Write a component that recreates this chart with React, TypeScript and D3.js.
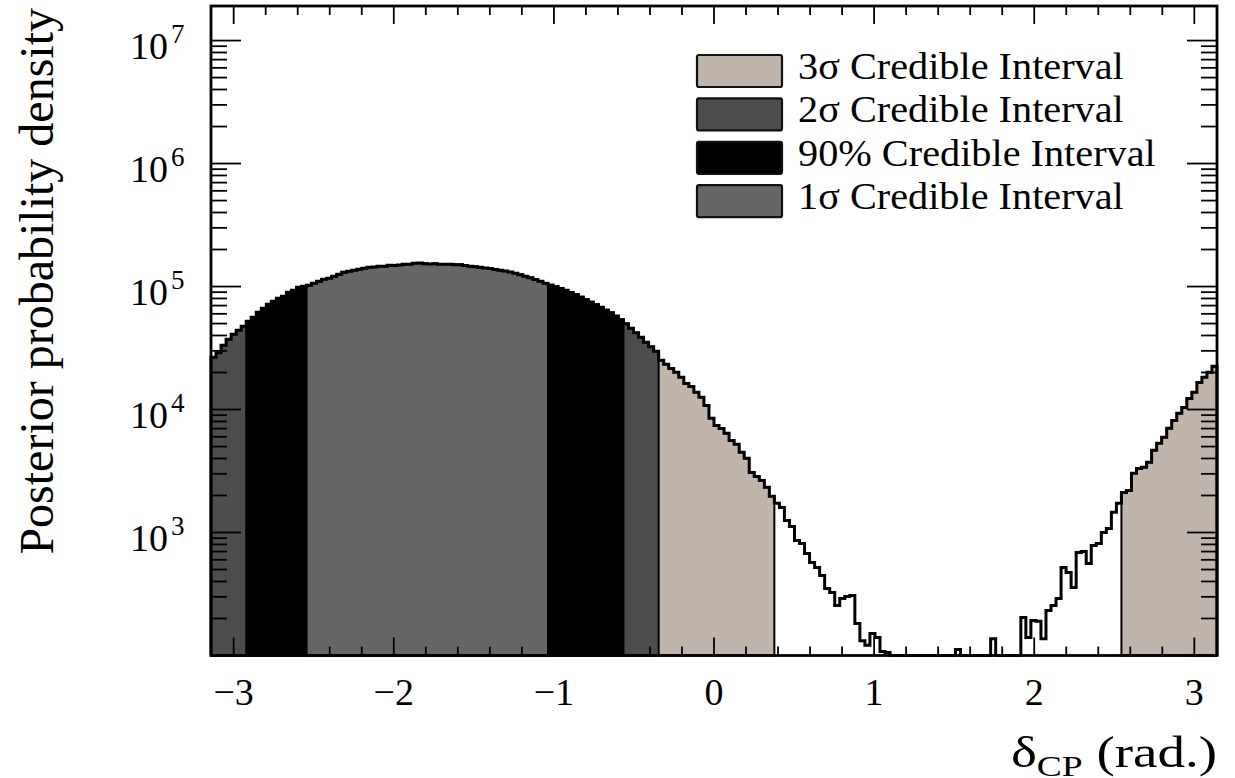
import React from 'react';
import * as d3 from 'd3';

// ---------------- data ----------------
const X_DOMAIN: [number, number] = [-Math.PI, Math.PI];
const Y_DOMAIN: [number, number] = [100, 1.91e7];

// posterior probability density, 200 bins over [-pi, pi]
const POSTERIOR: number[] = [
  26600, 29000, 33300, 37300, 40900, 44100, 47600, 52200, 56300, 61800,
  66600, 71800, 75900, 80300, 83400, 89900, 93300, 98700, 100500, 102500,
  106300, 110500, 114600, 116900, 121300, 125900, 130700, 133100, 135800, 138300,
  140900, 143600, 144500, 146300, 146000, 149000, 148500, 149500, 151800, 152000,
  154900, 155500, 153000, 152500, 153000, 152000, 151800, 151500, 150700, 150400,
  148000, 146300, 144900, 143600, 141700, 139900, 137700, 135800, 133700, 131500,
  128300, 124700, 121300, 118000, 114000, 110500, 106300, 103000, 100000, 96500,
  93300, 89500, 86100, 82200, 78400, 74900, 71500, 67900, 64500, 61200,
  57500, 54000, 49800, 45800, 42100, 38700, 35200, 32400, 29800, 25100,
  23300, 21600, 20100, 18300, 16300, 15400, 13800, 12600, 10800, 8480,
  7430, 7000, 6400, 5610, 5210, 4490, 4010, 3080, 2860, 2650,
  2330, 1970, 1730, 1600, 1250, 1120, 862, 815, 676, 571,
  520, 448, 351, 326, 255, 291, 302, 308, 182, 132,
  121, 151, 140, 108, 106, 0, 0, 0, 0, 0,
  0, 0, 0, 0, 0, 0, 0, 0, 112, 0,
  0, 0, 0, 0, 0, 137, 0, 0, 0, 0,
  0, 204, 140, 193, 190, 137, 232, 255, 291, 520,
  473, 357, 689, 700, 561, 785, 815, 1000, 1080, 1460,
  1730, 2120, 2200, 3030, 3320, 3400, 3720, 4660, 5310, 5940,
  7030, 8160, 9310, 10400, 12300, 13800, 16600, 18300, 20100, 22500,
];

const X_TICKS = [-3, -2, -1, 0, 1, 2, 3];
const X_TICK_LABELS = ['\u22123', '\u22122', '\u22121', '0', '1', '2', '3'];
const Y_EXPONENTS = [3, 4, 5, 6, 7];

const INTERVAL_LABELS = [
  '3\u03c3 Credible Interval',
  '2\u03c3 Credible Interval',
  '90% Credible Interval',
  '1\u03c3 Credible Interval',
];
// ranges in delta_CP (rad.)
const INTERVAL_RANGES: [number, number][][] = [
  [[-Math.PI, 0.377], [2.5447, Math.PI]],
  [[-Math.PI, -0.3456]],
  [[-2.9217, -0.5655]],
  [[-2.5447, -1.0367]],
];

// ---------------- styles ----------------
const COLORS = ['#bfb5ab', '#4d4d4d', '#000000', '#666666'];
const FONT = "'Liberation Serif', 'Times New Roman', serif";
const W = 1235;
const H = 778;
const PLOT = { left: 211, right: 1217, top: 6, bottom: 655.5 };

export default function App() {
  const x = d3.scaleLinear().domain(X_DOMAIN).range([PLOT.left, PLOT.right]);
  const y = d3.scaleLog().domain(Y_DOMAIN).range([PLOT.bottom, PLOT.top]);
  const n = POSTERIOR.length;
  const bw = (X_DOMAIN[1] - X_DOMAIN[0]) / n;
  const edge = (i: number) => X_DOMAIN[0] + i * bw;
  const yv = (v: number) => (v <= Y_DOMAIN[0] ? y(Y_DOMAIN[0]) : y(v));

  // step path for bins [i0, i1)
  const stepPath = (i0: number, i1: number, closed: boolean) => {
    const pts: [number, number][] = [];
    pts.push([x(edge(i0)), y(Y_DOMAIN[0])]);
    for (let i = i0; i < i1; i++) {
      pts.push([x(edge(i)), yv(POSTERIOR[i])]);
      pts.push([x(edge(i + 1)), yv(POSTERIOR[i])]);
    }
    pts.push([x(edge(i1)), y(Y_DOMAIN[0])]);
    const line = d3.line();
    return line(pts) + (closed ? 'Z' : '');
  };

  const regionRuns = (ranges: [number, number][]) => {
    const runs: [number, number][] = [];
    ranges.forEach(([a, b]) => {
      let s = -1;
      for (let i = 0; i < n; i++) {
        const c = edge(i) + bw / 2;
        const inside = c >= a && c <= b;
        if (inside && s < 0) s = i;
        if (!inside && s >= 0) {
          runs.push([s, i]);
          s = -1;
        }
      }
      if (s >= 0) runs.push([s, n]);
    });
    return runs;
  };

  // ticks
  const xMinor = d3.range(-15, 16).map((k) => k * 0.2).filter((v) => v >= X_DOMAIN[0] && v <= X_DOMAIN[1]);
  const yMinor: number[] = [];
  for (let e = 2; e <= 7; e++) {
    for (let m = 1; m <= 9; m++) {
      const v = m * Math.pow(10, e);
      if (v >= Y_DOMAIN[0] && v <= Y_DOMAIN[1]) yMinor.push(v);
    }
  }

  const legendX = 697;
  const legendY0 = 71;
  const legendDy = 43.4;

  return (
    <svg
      width={W}
      height={H}
      style={{ position: 'absolute', left: 0, top: 0, background: '#fff' }}
      fontFamily={FONT}
    >
      <rect x={0} y={0} width={W} height={H} fill="#fff" />
      {/* interval fills */}
      {INTERVAL_RANGES.map((ranges, k) =>
        regionRuns(ranges).map(([a, b], j) => (
          <path
            key={`r${k}-${j}`}
            d={stepPath(a, b, true)}
            fill={COLORS[k]}
            stroke="#000"
            strokeWidth={2}
          />
        ))
      )}
      {/* full histogram outline */}
      <path d={stepPath(0, n, false)} fill="none" stroke="#000" strokeWidth={3} strokeLinejoin="miter" />

      {/* ticks */}
      <g stroke="#000" strokeWidth={1.8}>
        {xMinor.map((v, i) => {
          const major = Math.abs(v - Math.round(v)) < 1e-9;
          const len = major ? 18 : 9;
          return (
            <g key={`xt${i}`}>
              <line x1={x(v)} x2={x(v)} y1={PLOT.bottom} y2={PLOT.bottom - len} />
              <line x1={x(v)} x2={x(v)} y1={PLOT.top} y2={PLOT.top + len} />
            </g>
          );
        })}
        {yMinor.map((v, i) => {
          const major = Math.abs(Math.log10(v) - Math.round(Math.log10(v))) < 1e-9;
          const len = major ? 30 : 16;
          return (
            <g key={`yt${i}`}>
              <line x1={PLOT.left} x2={PLOT.left + len} y1={y(v)} y2={y(v)} />
              <line x1={PLOT.right} x2={PLOT.right - len} y1={y(v)} y2={y(v)} />
            </g>
          );
        })}
      </g>
      {/* frame */}
      <rect
        x={PLOT.left}
        y={PLOT.top}
        width={PLOT.right - PLOT.left}
        height={PLOT.bottom - PLOT.top}
        fill="none"
        stroke="#000"
        strokeWidth={2.8}
      />

      {/* x tick labels */}
      {X_TICKS.map((t, i) => (
        <text key={`xl${i}`} x={x(t)} y={705} fontSize={38} textAnchor="middle" fill="#000">
          {X_TICK_LABELS[i]}
        </text>
      ))}
      {/* y tick labels */}
      {Y_EXPONENTS.map((e) => {
        const yy = y(Math.pow(10, e));
        return (
          <g key={`yl${e}`}>
            <text x={168} y={yy + 18} fontSize={38} textAnchor="end" fill="#000">
              10
            </text>
            <text x={171} y={yy + 2} fontSize={27} textAnchor="start" fill="#000">
              {e}
            </text>
          </g>
        );
      })}

      {/* axis titles */}
      <text
        transform={`translate(53, 8) rotate(-90)`}
        fontSize={48}
        textAnchor="end"
        fill="#000"
      >
        Posterior probability density
      </text>
      <text
        transform={`translate(${PLOT.right}, 767) scale(1.25, 1)`}
        fontSize={44}
        textAnchor="end"
        fill="#000"
      >
        {'\u03b4'}
        <tspan fontSize={30} dy={9}>CP</tspan>
        <tspan dy={-9}>{' (rad.)'}</tspan>
      </text>

      {/* legend */}
      {INTERVAL_LABELS.map((lab, k) => {
        const cy = legendY0 + k * legendDy;
        return (
          <g key={`lg${k}`}>
            <rect
              x={legendX}
              y={cy - 16}
              width={85}
              height={32}
              rx={2}
              fill={COLORS[k]}
              stroke="#111"
              strokeWidth={2.2}
            />
            <text
              transform={`translate(798, ${cy + 8}) scale(1.06, 1)`}
              fontSize={38}
              fill="#000"
            >
              {lab}
            </text>
          </g>
        );
      })}
    </svg>
  );
}
